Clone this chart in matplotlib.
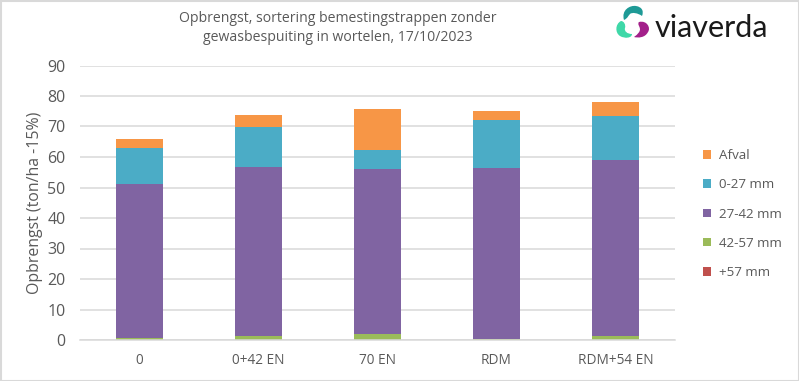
#! /usr/bin/env python3

import numpy as np
import matplotlib.pyplot as plt
from matplotlib.patches import PathPatch, Rectangle
from matplotlib.path import Path

plt.rcParams['font.family'] = ['Open Sans', 'DejaVu Sans']

categories = ['0', '0+42 EN', '70 EN', 'RDM', 'RDM+54 EN']
plus57 = [0.0, 0.0, 0.0, 0.0, 0.0]
mm42_57 = [0.5, 1.3, 2.0, 0.2, 1.3]
mm27_42 = [50.5, 55.4, 54.2, 56.3, 57.7]
mm0_27 = [12.0, 13.3, 6.1, 15.5, 14.3]
afval = [2.9, 3.8, 13.4, 3.0, 4.7]

series = [('+57 mm', plus57, '#C0504D'),
          ('42-57 mm', mm42_57, '#9BBB59'),
          ('27-42 mm', mm27_42, '#8064A2'),
          ('0-27 mm', mm0_27, '#4BACC6'),
          ('Afval', afval, '#F79646')]

W, H = 799, 381
grey = '#595959'

fig = plt.figure(figsize=(W/100, H/100), dpi=100)
ax = fig.add_axes([80/W, 1-340/H, 595/W, 274.5/H])

# stacked bars
x = np.arange(len(categories))
bottom = np.zeros(len(categories))
for name, values, color in series:
	ax.bar(x, values, 0.4, bottom=bottom, color=color, label=name, zorder=3)
	bottom += np.array(values)

ax.set_xlim(-0.5, 4.5)
ax.set_ylim(0, 90)
ax.set_yticks(range(0, 100, 10))
ax.set_xticks(x, categories)
ax.grid(axis='y', color='#D9D9D9', linewidth=1.1, zorder=0)
ax.tick_params(axis='both', length=0, colors=grey)
ax.tick_params(axis='y', labelsize=11.5, pad=10.5)
ax.tick_params(axis='x', labelsize=9.8, pad=9)
for side in ['top', 'right', 'left']:
	ax.spines[side].set_visible(False)
ax.spines['bottom'].set_color('#D9D9D9')
ax.spines['bottom'].set_linewidth(1.1)
ax.spines['bottom'].set_zorder(4)
fig.text(35/W, 1-203/H, 'Opbrengst (ton/ha -15%)', fontsize=11.4, color=grey,
	rotation=90, ha='center', va='center')

handles, labels = ax.get_legend_handles_labels()
fig.legend(handles[::-1], labels[::-1], loc='upper left', bbox_to_anchor=(703/W, 1-149/H),
	frameon=False, fontsize=9.6, labelcolor=grey, handlelength=0.62, handleheight=0.62,
	handletextpad=0.6, labelspacing=1.22, borderpad=0, borderaxespad=0)

fig.text(337.5/W, 1-28/H, 'Opbrengst, sortering bemestingstrappen zonder\ngewasbespuiting in wortelen, 17/10/2023',
	ha='center', va='center', fontsize=10.1, color=grey, linespacing=1.45)

# logo and frame, in pixel coordinates
over = fig.add_axes([0, 0, 1, 1], facecolor='none')
over.set_xlim(0, W)
over.set_ylim(H, 0)
over.axis('off')

C = Path.CURVE4
def blob(points, color):
	codes = [Path.MOVETO] + [C]*(len(points)-1)
	over.add_patch(PathPatch(Path(points, codes), facecolor=color, edgecolor='none'))

blob([(624,20), (621,10), (630,5), (636,6), (642,7), (644,11), (642,16),
	(638,13), (632,12), (630,14), (628,16), (628,18), (624,20)], '#1E9A96')
blob([(621,21), (615,24), (615,33), (620,36), (625,39), (632,38), (632,34),
	(627,34), (624,31), (625,28), (626,25), (624,21), (621,21)], '#3FD8A8')
blob([(639,22), (647,20), (651,28), (648,32), (645,38), (638,38), (634,37),
	(638,34), (640,32), (640,29), (640,27), (637,24), (639,22)], '#A3208A')
over.text(654.5, 37, 'viaverda', fontsize=22, color='#1A1A1A', family='Lato', ha='left', va='baseline')

over.add_patch(Rectangle((0.5, 0.5), W-1, H-1, fill=False, edgecolor='#D9D9D9', linewidth=1.5))

plt.savefig('out.png', dpi=100)
plt.close()
